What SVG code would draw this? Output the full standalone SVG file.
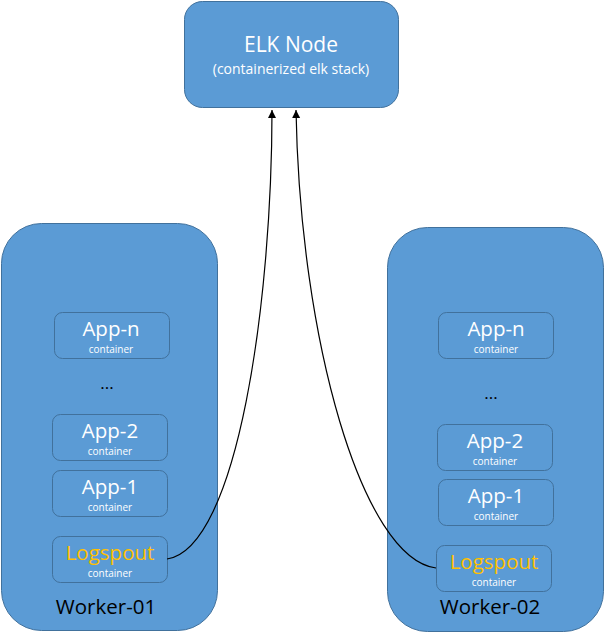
<svg xmlns="http://www.w3.org/2000/svg" width="604" height="636" viewBox="0 0 604 636">
<defs>
<style>
.big{fill:#5b9bd5;stroke:#41719c;stroke-width:1}
.box{fill:#5b9bd5;stroke:#41719c;stroke-width:1}
.t{font-family:"Open Sans","Noto Sans",sans-serif;text-anchor:middle;fill:#fff}
.lbl{font-size:20.5px}
.sub{font-size:10px}
.log{fill:#ffc000}
.wk{font-family:"Open Sans","Noto Sans",sans-serif;text-anchor:middle;fill:#000;font-size:20.5px}
.dots{font-family:"Open Sans","Noto Sans",sans-serif;text-anchor:middle;fill:#000;font-size:17px}
.conn{fill:none;stroke:#000;stroke-width:1.2}
</style>
<marker id="arr" markerWidth="10" markerHeight="10" refX="8" refY="4" orient="auto" markerUnits="userSpaceOnUse">
<path d="M0,0 L8,4 L0,8 z" fill="#000"/>
</marker>
</defs>
<g id="elk">
<rect class="big" x="184.5" y="1.5" width="214" height="106" rx="18"/>
<text class="t" x="291" y="52" font-size="21">ELK Node</text>
<text class="t" x="291" y="74" font-size="14">(containerized elk stack)</text>
</g>
<g id="worker01">
<rect class="big" x="1.5" y="223.5" width="216" height="407" rx="40"/>
<text class="wk" x="106" y="614">Worker-01</text>
<text class="dots" x="107" y="389">...</text>
</g>
<g id="w1-appn"><rect class="box" x="54.5" y="312.5" width="115" height="46" rx="8"/><text class="t lbl" x="111" y="336">App-n</text><text class="t sub" x="111" y="353">container</text></g>
<g id="w1-app2"><rect class="box" x="52.5" y="414.5" width="115" height="46" rx="8"/><text class="t lbl" x="110" y="438">App-2</text><text class="t sub" x="110" y="455">container</text></g>
<g id="w1-app1"><rect class="box" x="52.5" y="470.5" width="115" height="46" rx="8"/><text class="t lbl" x="110" y="494">App-1</text><text class="t sub" x="110" y="511">container</text></g>
<g id="w1-logspout"><rect class="box" x="52.5" y="536.5" width="115" height="46" rx="8"/><text class="t lbl log" x="110" y="560">Logspout</text><text class="t sub" x="110" y="577">container</text></g>
<g id="worker02">
<rect class="big" x="387.5" y="227.5" width="216" height="404" rx="40"/>
<text class="wk" x="490" y="614">Worker-02</text>
<text class="dots" x="491" y="399">...</text>
</g>
<g id="w2-appn"><rect class="box" x="438.5" y="312.5" width="115" height="46" rx="8"/><text class="t lbl" x="496" y="336">App-n</text><text class="t sub" x="496" y="353">container</text></g>
<g id="w2-app2"><rect class="box" x="437.5" y="424.5" width="115" height="46" rx="8"/><text class="t lbl" x="495" y="448">App-2</text><text class="t sub" x="495" y="465">container</text></g>
<g id="w2-app1"><rect class="box" x="438.5" y="479.5" width="115" height="46" rx="8"/><text class="t lbl" x="496" y="503">App-1</text><text class="t sub" x="496" y="520">container</text></g>
<g id="w2-logspout"><rect class="box" x="436.5" y="545.5" width="115" height="46" rx="8"/><text class="t lbl log" x="494" y="569">Logspout</text><text class="t sub" x="494" y="586">container</text></g>
<g id="connectors">
<path class="conn" d="M167,559 C238,548 272,300 272,110" marker-end="url(#arr)"/>
<path class="conn" d="M436,568 C362,558 300,340 296,110" marker-end="url(#arr)"/>
</g>
</svg>
